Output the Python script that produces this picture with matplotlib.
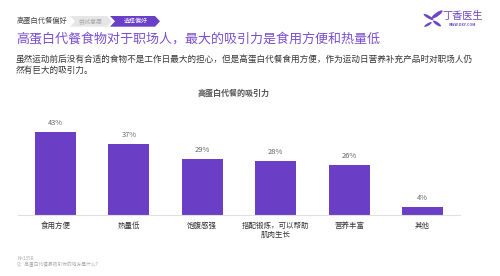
import matplotlib.pyplot as plt
from matplotlib.patches import Polygon, Ellipse

plt.rcParams['font.family'] = ['Noto Sans CJK SC', 'DejaVu Sans']

# 数据
categories = ['食用方便', '热量低', '饱腹感强', '搭配锻炼，可以帮助\n肌肉生长', '营养丰富', '其他']
values = [43, 37, 29, 28, 26, 4]
value_labels = ['43%', '37%', '29%', '28%', '26%', '4%']

purple = '#6b3fc5'
title_purple = '#7a4fcf'

W, H = 500, 276
fig = plt.figure(figsize=(5, 2.76), dpi=100)


def fx(x):
    return x / W


def fy(y):
    return 1 - y / H


# 面包屑导航
fig.text(fx(17), fy(21), '高蛋白代餐偏好', fontsize=5.2, color='#444444', va='center', ha='left')
gray_chev = [(70, 16), (107, 16), (112, 21.3), (107, 26.7), (70, 26.7), (75, 21.3)]
purple_chev = [(110, 16), (155, 16), (160, 21.3), (155, 26.7), (110, 26.7), (115, 21.3)]
fig.patches.append(Polygon([(fx(a), fy(b)) for a, b in gray_chev], closed=True,
                           transform=fig.transFigure, facecolor='#e6e6e6', edgecolor='none'))
fig.patches.append(Polygon([(fx(a), fy(b)) for a, b in purple_chev], closed=True,
                           transform=fig.transFigure, facecolor='#6a3fc8', edgecolor='none'))
fig.text(fx(91), fy(21.3), '尝试意愿', fontsize=4.3, color='#aaaaaa', va='center', ha='center')
fig.text(fx(136), fy(21.3), '选择偏好', fontsize=4.3, color='white', va='center', ha='center')

# 标志
for cx, cy, w, h, ang in [(437, 14.5, 5, 10, -35), (428.5, 17, 4, 8, 40),
                          (437, 23.5, 4, 7, 35), (428, 24.5, 3.5, 6, -40)]:
    fig.patches.append(Ellipse((fx(cx), fy(cy)), w / W, h / H, angle=ang,
                               transform=fig.transFigure, facecolor='#6e47c2', edgecolor='none'))
fig.text(fx(463), fy(16), '丁香医生', fontsize=7.3, color='#6e47c2', va='center', ha='center')
fig.text(fx(463), fy(24.5), 'WWW.DXY.COM', fontsize=2.6, color='#6e47c2', va='center',
         ha='center', fontweight='bold')

# 标题
fig.text(fx(16), fy(40), '高蛋白代餐食物对于职场人，最大的吸引力是食用方便和热量低',
         fontsize=9.4, color=title_purple, va='center', ha='left')
fig.text(fx(16), fy(59),
         '虽然运动前后没有合适的食物不是工作日最大的担心，但是高蛋白代餐食用方便，作为运动日营养补充产品时对职场人仍',
         fontsize=6.2, color='#333333', va='center', ha='left')
fig.text(fx(16), fy(70), '然有巨大的吸引力。', fontsize=6.2, color='#333333', va='center', ha='left')

# 图表标题
fig.text(fx(234), fy(93), '高蛋白代餐的吸引力', fontsize=5.8, color='#555555',
         va='center', ha='center', fontweight='bold')

# 柱状图
base_y = 214.7
ymax = 50
px_per = 1.916
top_y = base_y - ymax * px_per
ax = fig.add_axes([fx(18), fy(base_y), fx(460) - fx(18), (base_y - top_y) / H])
x = range(len(categories))
ax.bar(x, values, width=0.56, color=purple)
for i, v in enumerate(values):
    ax.text(i, v + 2.6, value_labels[i], ha='center', va='bottom', fontsize=5.4, color='#666666')
ax.set_xlim(-0.51, 5.51)
ax.set_ylim(0, ymax)
ax.set_xticks(list(x))
ax.set_xticklabels(categories, fontsize=5.4, color='#333333', linespacing=1.25)
ax.tick_params(axis='x', length=0, pad=5)
ax.set_yticks([])
for s in ['top', 'right', 'left']:
    ax.spines[s].set_visible(False)
ax.spines['bottom'].set_color('#e0e0e0')
ax.spines['bottom'].set_linewidth(0.8)

# 脚注
fig.text(fx(17), fy(259), 'N=1358', fontsize=3.4, color='#aaaaaa', va='center', ha='left')
fig.text(fx(17), fy(264.5), 'Q：高蛋白代餐最吸引你的地方是什么？', fontsize=3.4, color='#aaaaaa',
         va='center', ha='left')

fig.savefig('out.png', dpi=100)
